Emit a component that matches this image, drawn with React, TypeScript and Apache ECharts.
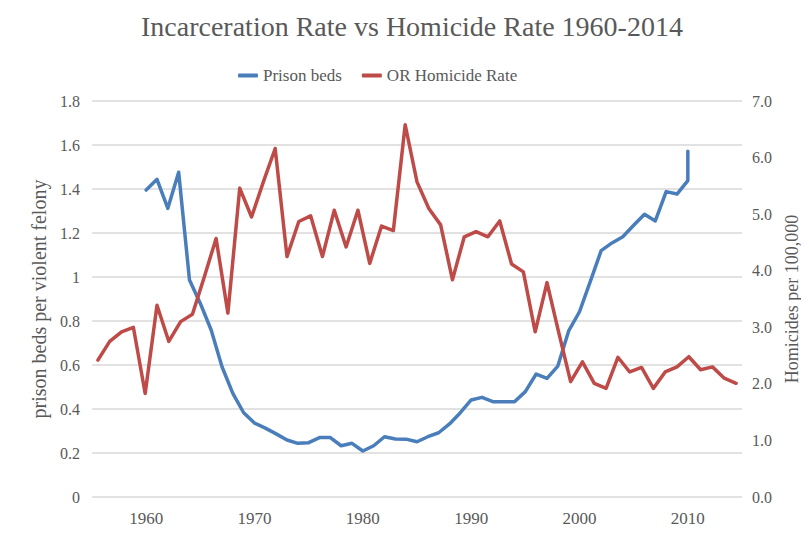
import React, { useEffect, useRef } from "react";
import * as echarts from "echarts";

// Prison beds per violent felony (primary axis), [year, value]
const prisonYears = [
  1960, 1961, 1962, 1963, 1964, 1965, 1966, 1967, 1968, 1969,
  1970, 1971, 1972, 1973, 1974, 1975, 1976, 1977, 1978, 1979,
  1980, 1981, 1982, 1983, 1984, 1985, 1986, 1987, 1988, 1989,
  1990, 1991, 1992, 1993, 1994, 1995, 1996, 1997, 1998, 1999,
  2000, 2001, 2002, 2003, 2004, 2005, 2006, 2007, 2008, 2009,
  2010, 2010,
];
const prisonBeds = [
  1.395, 1.444, 1.312, 1.476, 0.986, 0.88, 0.759, 0.592, 0.471, 0.383,
  0.336, 0.313, 0.287, 0.259, 0.244, 0.247, 0.27, 0.27, 0.233, 0.244,
  0.209, 0.233, 0.274, 0.264, 0.263, 0.251, 0.274, 0.292, 0.332, 0.383,
  0.441, 0.453, 0.433, 0.433, 0.433, 0.479, 0.559, 0.539, 0.595, 0.755,
  0.842, 0.98, 1.12, 1.155, 1.183, 1.235, 1.285, 1.255, 1.388, 1.377,
  1.438, 1.572,
];

// OR homicide rate per 100,000 (secondary axis), one per year 1960-2014
const homicideYears = [
  "1960", "1961", "1962", "1963", "1964", "1965", "1966", "1967", "1968", "1969",
  "1970", "1971", "1972", "1973", "1974", "1975", "1976", "1977", "1978", "1979",
  "1980", "1981", "1982", "1983", "1984", "1985", "1986", "1987", "1988", "1989",
  "1990", "1991", "1992", "1993", "1994", "1995", "1996", "1997", "1998", "1999",
  "2000", "2001", "2002", "2003", "2004", "2005", "2006", "2007", "2008", "2009",
  "2010", "2011", "2012", "2013", "2014",
];
const homicideRate = [
  2.42, 2.75, 2.92, 3.0, 1.83, 3.39, 2.75, 3.1, 3.23, 3.89,
  4.57, 3.25, 5.46, 4.95, 5.57, 6.16, 4.25, 4.87, 4.97, 4.25,
  5.07, 4.42, 5.07, 4.13, 4.79, 4.71, 6.58, 5.57, 5.1, 4.81,
  3.84, 4.6, 4.69, 4.6, 4.88, 4.12, 3.98, 2.92, 3.79, 2.9,
  2.04, 2.39, 2.01, 1.92, 2.47, 2.21, 2.29, 1.92, 2.21, 2.3,
  2.48, 2.25, 2.3, 2.1, 2.01,
];

const titleText = "Incarceration Rate vs Homicide Rate 1960-2014";
const leftAxisName = "prison beds per violent felony";
const rightAxisName = "Homicides per 100,000";

const FONT = "'Liberation Serif', 'DejaVu Serif', serif";
const TEXT = "#595959";
const BLUE = "#4a7ebb";
const RED = "#be4b48";

export default function App() {
  const ref = useRef<HTMLDivElement>(null);
  useEffect(() => {
    if (!ref.current) return;
    const chart = echarts.init(ref.current, undefined, { renderer: "svg" });
    chart.setOption({
      animation: false,
      backgroundColor: "#ffffff",
      title: {
        text: titleText,
        left: 136,
        top: 7,
        textStyle: { fontFamily: FONT, fontSize: 28, fontWeight: "normal", color: TEXT },
      },
      legend: {
        top: 62,
        left: 233,
        itemGap: 20,
        itemWidth: 20,
        itemHeight: 4,
        icon: "roundRect",
        textStyle: { fontFamily: FONT, fontSize: 17, color: TEXT },
        data: ["Prison beds", "OR Homicide Rate"],
      },
      grid: { left: 92, right: 67, top: 101, bottom: 50, containLabel: false },
      xAxis: [
        {
          type: "value",
          min: 1955,
          max: 2015,
          interval: 5,
          axisLine: { show: false },
          axisTick: { show: false },
          splitLine: { show: false },
          axisLabel: {
            formatter: (v: number) => (v % 10 === 0 ? String(v) : ""),
            fontFamily: FONT,
            fontSize: 17,
            color: TEXT,
            margin: 13,
          },
        },
        {
          type: "category",
          data: homicideYears,
          boundaryGap: true,
          show: false,
        },
      ],
      yAxis: [
        {
          type: "value",
          min: 0,
          max: 1.8,
          interval: 0.2,
          name: leftAxisName,
          nameLocation: "middle",
          nameRotate: 90,
          nameGap: 37,
          nameTextStyle: { fontFamily: FONT, fontSize: 20, color: TEXT },
          axisLine: { show: false },
          axisTick: { show: false },
          splitLine: { lineStyle: { color: "#d9d9d9", width: 1.5 } },
          axisLabel: {
            formatter: (v: number) => String(parseFloat(v.toFixed(1))),
            fontFamily: FONT,
            fontSize: 16,
            color: TEXT,
            margin: 12,
          },
        },
        {
          type: "value",
          min: 0,
          max: 7,
          interval: 1,
          position: "right",
          name: rightAxisName,
          nameLocation: "middle",
          nameRotate: 90,
          nameGap: 40,
          nameTextStyle: { fontFamily: FONT, fontSize: 18, color: TEXT },
          axisLine: { show: false },
          axisTick: { show: false },
          splitLine: { show: false },
          axisLabel: {
            formatter: (v: number) => v.toFixed(1),
            fontFamily: FONT,
            fontSize: 16,
            color: TEXT,
            margin: 10,
          },
        },
      ],
      series: [
        {
          name: "Prison beds",
          type: "line",
          xAxisIndex: 0,
          yAxisIndex: 0,
          data: prisonYears.map((y, i) => [y, prisonBeds[i]]),
          showSymbol: false,
          symbol: "none",
          color: BLUE,
          lineStyle: { width: 3.5, color: BLUE, cap: "round", join: "round" },
        },
        {
          name: "OR Homicide Rate",
          type: "line",
          xAxisIndex: 1,
          yAxisIndex: 1,
          data: homicideRate,
          showSymbol: false,
          symbol: "none",
          color: RED,
          lineStyle: { width: 3.5, color: RED, cap: "round", join: "round" },
        },
      ],
    });
    return () => chart.dispose();
  }, []);
  return <div ref={ref} style={{ width: 809, height: 547, margin: -8 }} />;
}
